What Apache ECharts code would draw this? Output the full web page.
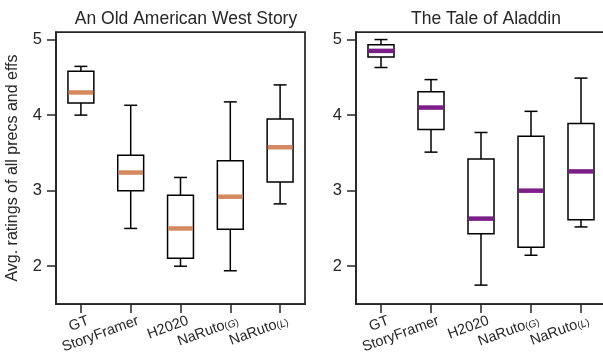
<!DOCTYPE html>
<html>
<head>
<meta charset="utf-8">
<script src="https://cdn.jsdelivr.net/npm/echarts@6/dist/echarts.min.js"></script>
<style>
html,body{margin:0;padding:0;background:#fff;}
#chart{width:603px;height:361px;}
</style>
</head>
<body>
<div id="chart"></div>
<script>
// ---- data ----
const categories = ['GT', 'StoryFramer', 'H2020', 'NaRuto(G)', 'NaRuto(L)'];
const panelTitles = ['An Old American West Story', 'The Tale of Aladdin'];
// each row: [low whisker, Q1, median, Q3, high whisker]
const westStats = [
  [4.00, 4.16, 4.30, 4.58, 4.645],
  [2.50, 3.00, 3.24, 3.47, 4.13],
  [2.00, 2.105, 2.50, 2.94, 3.175],
  [1.94, 2.49, 2.92, 3.395, 4.175],
  [2.825, 3.115, 3.575, 3.95, 4.40]
];
const aladdinStats = [
  [4.63, 4.77, 4.85, 4.93, 5.00],
  [3.51, 3.81, 4.10, 4.31, 4.47],
  [1.75, 2.43, 2.63, 3.42, 3.77],
  [2.145, 2.25, 3.00, 3.72, 4.05],
  [2.52, 2.615, 3.255, 3.89, 4.49]
];
const yTicks = [2, 3, 4, 5];
const yLabel = 'Avg. ratings of all precs and effs';

// ---- styles ----
const INK = '#262626';
const FONT = '"Liberation Sans", Arial, sans-serif';
const medianColors = ['#D48A5E', '#7B1E87'];

function fmtCat(v) {
  if (v === 'NaRuto(G)') return '{a|NaRuto}{s|(}{i|G}{s|)}';
  if (v === 'NaRuto(L)') return '{a|NaRuto}{s|(}{i|L}{s|)}';
  return '{a|' + v + '}';
}

function makeRender(color) {
  return function (params, api) {
    const i = api.value(0);
    const lo = api.coord([i, api.value(1)]);
    const q1 = api.coord([i, api.value(2)]);
    const md = api.coord([i, api.value(3)]);
    const q3 = api.coord([i, api.value(4)]);
    const hi = api.coord([i, api.value(5)]);
    const band = api.size([1, 0])[0];
    const bw = band * 0.52;
    const cw = bw / 2;
    const x = md[0];
    const ls = { stroke: '#000', lineWidth: 1.5 };
    return {
      type: 'group',
      children: [
        { type: 'line', shape: { x1: x, y1: q3[1], x2: x, y2: hi[1] }, style: ls },
        { type: 'line', shape: { x1: x, y1: q1[1], x2: x, y2: lo[1] }, style: ls },
        { type: 'line', shape: { x1: x - cw / 2, y1: hi[1], x2: x + cw / 2, y2: hi[1] }, style: ls },
        { type: 'line', shape: { x1: x - cw / 2, y1: lo[1], x2: x + cw / 2, y2: lo[1] }, style: ls },
        { type: 'rect', shape: { x: x - bw / 2, y: q3[1], width: bw, height: q1[1] - q3[1] },
          style: { fill: '#fff', stroke: '#000', lineWidth: 1.5 } },
        { type: 'line', shape: { x1: x - bw / 2 + 0.5, y1: md[1], x2: x + bw / 2 - 0.5, y2: md[1] },
          style: { stroke: color, lineWidth: 4.5, lineCap: 'butt' } }
      ]
    };
  };
}

const grids = [
  { left: 56, right: 298, top: 32, bottom: 57 },
  { left: 356, right: -3, top: 32, bottom: 57 }
];

const chart = echarts.init(document.getElementById('chart'), null, { renderer: 'canvas' });

const option = {
  backgroundColor: '#fff',
  animation: false,
  title: panelTitles.map((t, k) => ({
    text: t,
    left: k === 0 ? 181 : 481,
    textAlign: 'center',
    top: 5,
    textStyle: { fontFamily: FONT, fontSize: 17.5, fontWeight: 'normal', color: INK }
  })),
  grid: grids.map(g => Object.assign({
    show: true, borderColor: INK, borderWidth: 1.75, backgroundColor: 'transparent',
    containLabel: false, outerBoundsMode: 'none'
  }, g)),
  xAxis: [0, 1].map(k => ({
    type: 'category',
    gridIndex: k,
    data: categories,
    boundaryGap: true,
    axisLine: { show: true, lineStyle: { color: INK, width: 1.75 } },
    axisTick: { show: true, alignWithLabel: true, length: 9, lineStyle: { color: INK, width: 1.5 } },
    splitLine: { show: false },
    axisLabel: {
      interval: 0,
      rotate: 20,
      margin: 19,
      color: INK,
      fontFamily: FONT,
      fontSize: 14.5,
      padding: [0, -8, 0, 0],
      formatter: fmtCat,
      rich: {
        a: { fontFamily: FONT, fontSize: 14.5, color: INK },
        s: { fontFamily: FONT, fontSize: 10, color: INK, padding: [4, 0, 0, 0] },
        i: { fontFamily: FONT, fontSize: 10, fontStyle: 'italic', color: INK, padding: [4, 0, 0, 0] }
      }
    }
  })),
  yAxis: [0, 1].map(k => ({
    type: 'value',
    gridIndex: k,
    min: 1.5,
    max: 5.1,
    name: k === 0 ? yLabel : '',
    nameLocation: 'middle',
    nameGap: 35,
    nameTextStyle: { fontFamily: FONT, fontSize: 16, color: INK },
    axisLine: { show: true, lineStyle: { color: INK, width: 1.75 } },
    axisTick: { show: true, length: 9, customValues: yTicks, lineStyle: { color: INK, width: 1.5 } },
    axisLabel: { customValues: yTicks, margin: 14, color: INK, fontFamily: FONT, fontSize: 16.5 },
    splitLine: { show: false }
  })),
  series: [westStats, aladdinStats].map((stats, k) => ({
    type: 'custom',
    xAxisIndex: k,
    yAxisIndex: k,
    renderItem: makeRender(medianColors[k]),
    encode: { x: 0, y: [1, 2, 3, 4, 5] },
    data: stats.map((s, i) => [i].concat(s)),
    clip: false
  }))
};

chart.setOption(option);
</script>
</body>
</html>
